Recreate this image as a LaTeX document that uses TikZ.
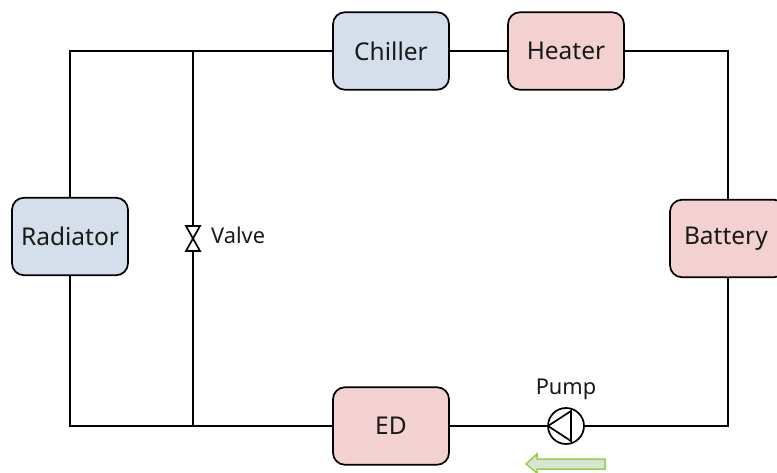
\documentclass[tikz,border=0pt]{standalone}
\usepackage{fontspec}
\setmainfont{Noto Sans}
\definecolor{coolfill}{HTML}{D5DFEB}
\definecolor{hotfill}{HTML}{F2D1D0}
\definecolor{arrowline}{HTML}{92D050}
\definecolor{arrowfill}{HTML}{D9E4D3}
\begin{document}
\begin{tikzpicture}[x=1pt,y=-1pt,
  comp/.style={draw=black,line width=1.7pt,rounded corners=12pt,minimum width=116pt,minimum height=77.5pt,inner sep=0pt,font=\fontsize{24.5}{28}\selectfont,text=black!90},
  cool/.style={comp,fill=coolfill},
  hot/.style={comp,fill=hotfill},
  wire/.style={draw=black,line width=1.7pt},
  lbl/.style={font=\fontsize{21.8}{26}\selectfont,inner sep=0pt,text=black!90},
  sym/.style={draw=black,line width=1.7pt,line join=miter}]
\useasboundingbox (0,0) rectangle (777,473);
\clip (0,0) rectangle (777,473);
% nodes
\node[cool] (chiller) at (391,51) {Chiller};
\node[hot] (heater) at (566,51) {Heater};
\node[cool] (radiator) at (70,236.5) {Radiator};
\node[hot,text width=116pt,align=left] (battery) at (728,238.5) {\hspace*{14pt}Battery};
\node[hot] (ed) at (391,426) {ED};
\node[circle,draw=black,line width=1.7pt,minimum size=36pt,inner sep=0pt] (pump) at (566,426) {};
\coordinate (tl) at (70,51);
\coordinate (tj) at (193,51);
\coordinate (tr) at (728,51);
\coordinate (bl) at (70,426);
\coordinate (bj) at (193,426);
\coordinate (br) at (728,426);
\coordinate (vt) at (193,226);
\coordinate (vb) at (193,251);
% wires
\draw[wire] (radiator.north) -- (tl) -- (chiller.west);
\draw[wire] (chiller) -- (heater);
\draw[wire] (heater.east) -- (tr) -- (battery.north);
\draw[wire] (battery.south) -- (br) -- (pump.east);
\draw[wire] (pump.west) -- (ed.east);
\draw[wire] (ed.west) -- (bl) -- (radiator.south);
\draw[wire] (tj) -- (vt);
\draw[wire] (vb) -- (bj);
% valve
\draw[sym] (186,226) -- (200,226) -- (186,251) -- (200,251) -- cycle;
\node[lbl,anchor=base west] (valve) at (211,243.5) {Valve};
% pump
\draw[sym] (548,426) -- (571,411) -- (571,441) -- cycle;
\node[lbl,anchor=base] (pumplabel) at (566,394.5) {Pump};
% flow arrow
\draw[draw=arrowline,fill=arrowfill,line width=1.5pt] (605,459) -- (537,459) -- (537,454) -- (526,464) -- (537,473) -- (537,469) -- (605,469) -- cycle;
\end{tikzpicture}
\end{document}
